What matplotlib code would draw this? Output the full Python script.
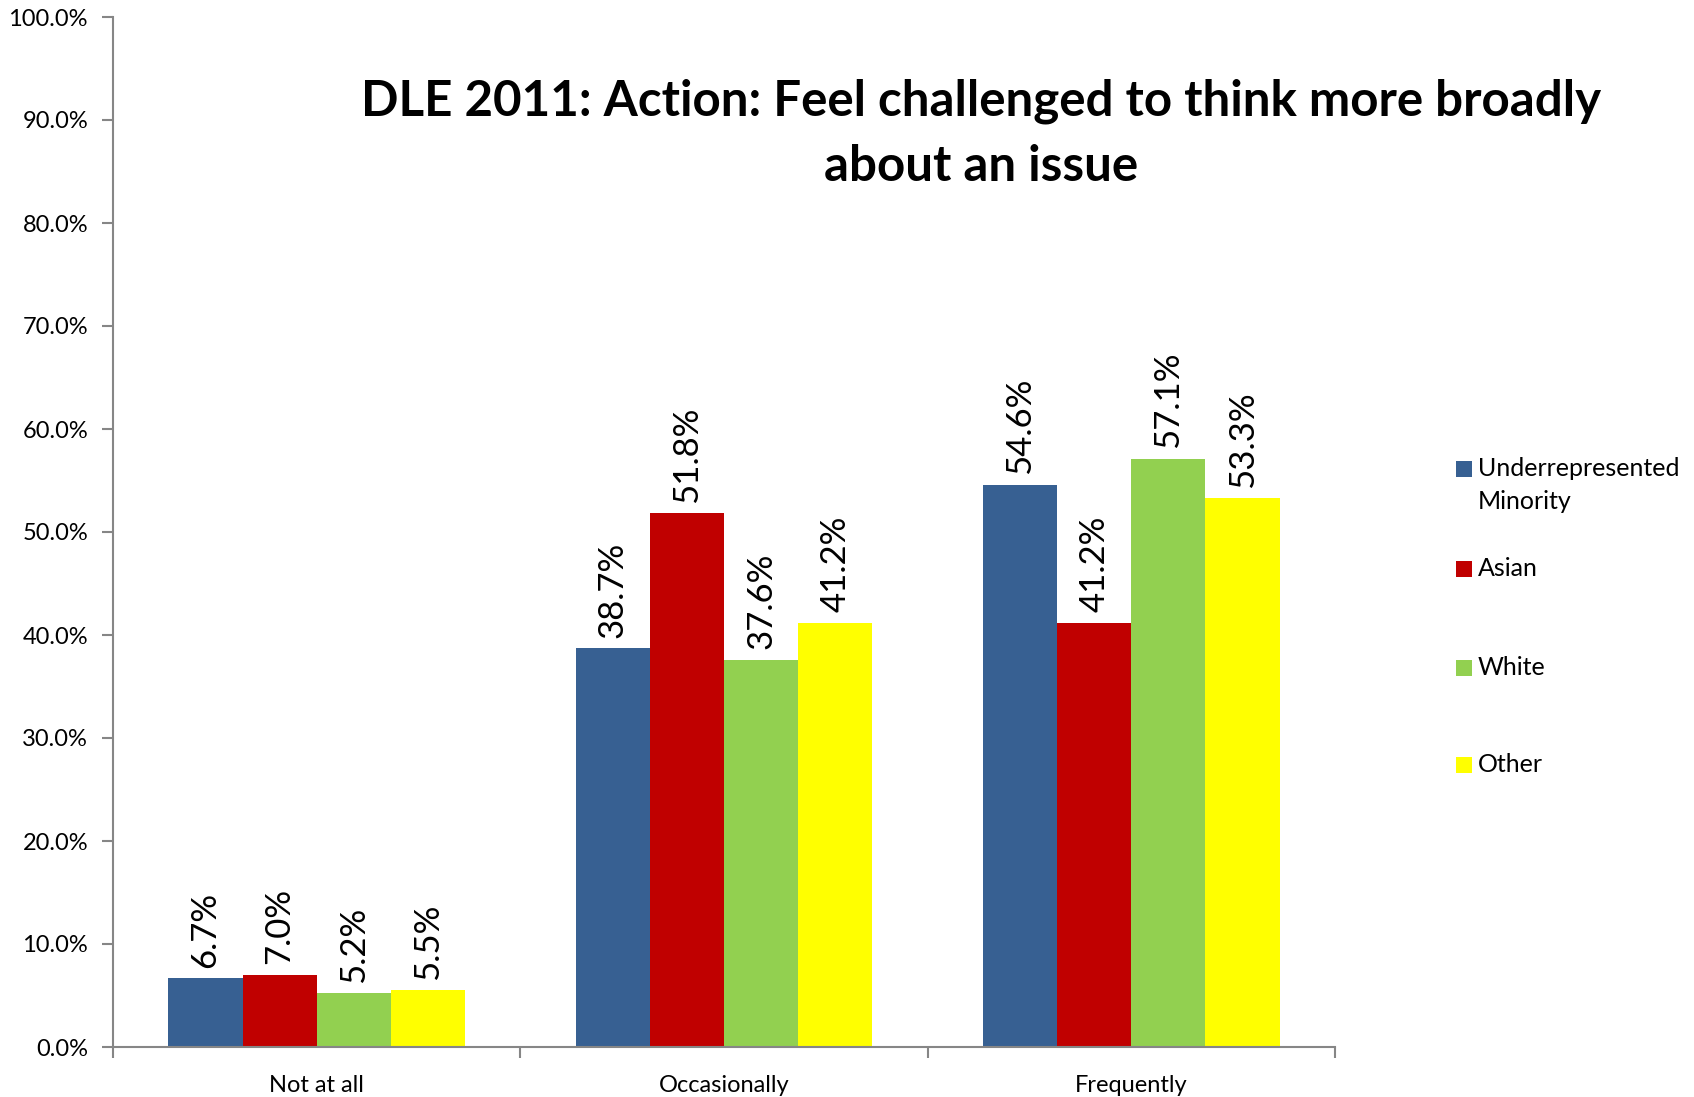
import matplotlib
matplotlib.use("Agg")
import matplotlib.pyplot as plt
import numpy as np
from matplotlib.patches import Rectangle

categories = ["Not at all", "Occasionally", "Frequently"]
series = ["Underrepresented\nMinority", "Asian", "White", "Other"]
urm = [6.7, 38.7, 54.6]
asian = [7.0, 51.8, 41.2]
white = [5.2, 37.6, 57.1]
other = [5.5, 41.2, 53.3]
values = [urm, asian, white, other]
colors = ["#376092", "#C00000", "#92D050", "#FFFF00"]
yticks = list(range(0, 101, 10))
title = "DLE 2011: Action: Feel challenged to think more broadly\nabout an issue"

plt.rcParams['font.family'] = ['Lato', 'DejaVu Sans']

W, H = 1694, 1097
fig = plt.figure(figsize=(W / 100, H / 100), dpi=100)
ax = fig.add_axes([113 / W, 1 - 1047 / H, (1335 - 113) / W, (1047 - 17) / H])

x = np.arange(len(categories))
bw = 0.182
n = len(series)
for i, (vals, col) in enumerate(zip(values, colors)):
    pos = x + (i - (n - 1) / 2) * bw
    ax.bar(pos, vals, width=bw, color=col, edgecolor='none', zorder=2)
    for xp, v in zip(pos, vals):
        ax.annotate(f"{v:.1f}%", xy=(xp, v), xytext=(0, 7.5), textcoords='offset points',
                    ha='center', va='bottom', rotation=90, fontsize=25, color='black')

ax.set_xlim(-0.5, len(categories) - 0.5)
ax.set_ylim(0, 100)
ax.set_yticks(yticks)
ax.set_yticklabels([f"{t:.1f}%" for t in yticks], fontsize=17)
ax.set_xticks(x)
ax.set_xticklabels(categories, fontsize=17)
ax.set_xticks(np.arange(len(categories) + 1) - 0.5, minor=True)
ax.tick_params(axis='x', which='major', length=0, pad=20)
ax.tick_params(axis='x', which='minor', length=8, width=1.5, color='#868686', direction='out')
ax.tick_params(axis='y', which='major', length=8, width=1.5, color='#868686', direction='out', pad=10)

for s in ['top', 'right']:
    ax.spines[s].set_visible(False)
for s in ['left', 'bottom']:
    ax.spines[s].set_color('#868686')
    ax.spines[s].set_linewidth(1.5)

fig.text(981 / W, 1 - 78 / H, title, ha='center', va='top', fontsize=35.5,
         fontweight='bold', linespacing=1.56)

# legend
sq = 16
centers = [469, 569, 668, 765]
for lab, col, cy in zip(series, colors, centers):
    fig.add_artist(Rectangle((1456 / W, 1 - (cy + sq / 2) / H), sq / W, sq / H,
                             transform=fig.transFigure, facecolor=col, edgecolor='none'))
    fig.text(1478 / W, 1 - (cy - 12) / H, lab, ha='left', va='top', fontsize=18,
             linespacing=1.55)

fig.savefig("out.png", dpi=100)
